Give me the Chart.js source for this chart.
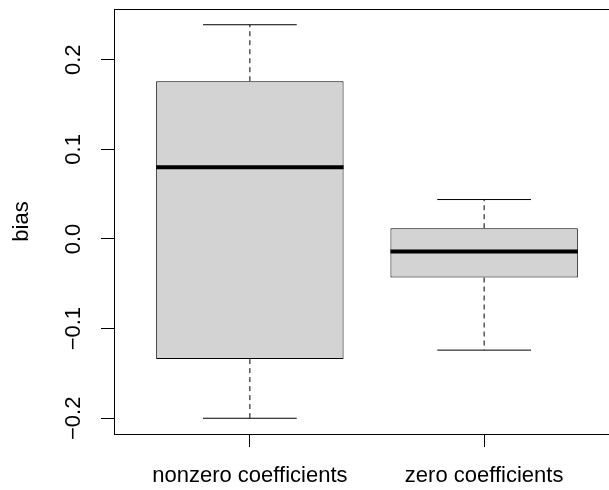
<!DOCTYPE html>
<html>
<head>
<meta charset="utf-8">
<script src="https://cdn.jsdelivr.net/npm/chart.js@4"></script>
<style>
    html, body { margin: 0; padding: 0; background: #fff; overflow: hidden; }
    #clip { width: 609px; height: 490px; overflow: hidden; }
    #wrap { position: relative; width: 620px; height: 490px; }
</style>
</head>
<body>
<div id="clip"><div id="wrap"><canvas id="boxChart"></canvas></div></div>
<script>
// Dados do boxplot
const categories = ['nonzero coefficients', 'zero coefficients'];
const whiskerLow = [-0.200, -0.124];
const boxLow = [-0.134, -0.043];
const medians = [0.080, -0.014];
const boxHigh = [0.176, 0.012];
const whiskerHigh = [0.239, 0.044];
const yTicks = [-0.2, -0.1, 0.0, 0.1, 0.2];
const yTickLabels = ['\u22120.2', '\u22120.1', '0.0', '0.1', '0.2'];

const FONT = '"Liberation Sans", Arial, sans-serif';
const BOX_WIDTH = 0.8;
const STAPLE_WIDTH = 0.4;

Chart.defaults.color = '#000';
Chart.defaults.font.family = FONT;

// limites como no R (4% de folga)
const dataLow = Math.min(...whiskerLow);
const dataHigh = Math.max(...whiskerHigh);
const yPad = (dataHigh - dataLow) * 0.04;

function segments(fn) {
    const out = [];
    categories.forEach((c, i) => {
        fn(i).forEach(seg => {
            out.push(seg[0], seg[1], { x: i + 1, y: null });
        });
    });
    return out;
}

const whiskerData = segments(i => [
    [{ x: i + 1, y: boxHigh[i] }, { x: i + 1, y: whiskerHigh[i] }],
    [{ x: i + 1, y: boxLow[i] }, { x: i + 1, y: whiskerLow[i] }]
]);

const stapleData = segments(i => [
    [{ x: i + 1 - STAPLE_WIDTH / 2, y: whiskerHigh[i] }, { x: i + 1 + STAPLE_WIDTH / 2, y: whiskerHigh[i] }],
    [{ x: i + 1 - STAPLE_WIDTH / 2, y: whiskerLow[i] }, { x: i + 1 + STAPLE_WIDTH / 2, y: whiskerLow[i] }]
]);

const medianData = segments(i => [
    [{ x: i + 1 - BOX_WIDTH / 2, y: medians[i] }, { x: i + 1 + BOX_WIDTH / 2, y: medians[i] }]
]);

// Moldura (topo; o lado direito fica fora da imagem) + rótulos verticais do eixo y
const rFrame = {
    id: 'rFrame',
    afterDraw(chart) {
        const { ctx, chartArea: a } = chart;
        const y = chart.scales.y;
        ctx.save();
        ctx.strokeStyle = '#000';
        ctx.lineWidth = 1;
        const top = Math.round(a.top) + 0.5;
        ctx.beginPath();
        ctx.moveTo(Math.round(a.left), top);
        ctx.lineTo(a.right, top);
        ctx.stroke();

        ctx.fillStyle = '#000';
        ctx.font = '22px ' + FONT;
        ctx.textAlign = 'center';
        ctx.textBaseline = 'alphabetic';
        y.ticks.forEach((t, i) => {
            ctx.save();
            ctx.translate(a.left - 34, y.getPixelForValue(t.value));
            ctx.rotate(-Math.PI / 2);
            ctx.fillText(yTickLabels[i], 0, 0);
            ctx.restore();
        });
        ctx.restore();
    }
};

new Chart(document.getElementById('boxChart'), {
    type: 'bar',
    data: {
        datasets: [{
            type: 'bar',
            data: categories.map((c, i) => ({ x: i + 1, y: [boxLow[i], boxHigh[i]] })),
            backgroundColor: '#D3D3D3',
            borderColor: '#000',
            borderWidth: 1,
            borderSkipped: false,
            barPercentage: BOX_WIDTH,
            categoryPercentage: 1,
            order: 3
        }, {
            type: 'line',
            data: whiskerData,
            borderColor: '#000',
            borderWidth: 1,
            borderDash: [5, 4],
            pointRadius: 0,
            spanGaps: false,
            order: 2
        }, {
            type: 'line',
            data: stapleData,
            borderColor: '#000',
            borderWidth: 1,
            pointRadius: 0,
            spanGaps: false,
            order: 1
        }, {
            type: 'line',
            data: medianData,
            borderColor: '#000',
            borderWidth: 4,
            pointRadius: 0,
            spanGaps: false,
            order: 0
        }]
    },
    options: {
        responsive: true,
        maintainAspectRatio: false,
        animation: false,
        layout: { padding: { top: 9, right: 0, bottom: 0, left: 0 } },
        plugins: {
            legend: { display: false },
            tooltip: { enabled: false }
        },
        scales: {
            x: {
                type: 'linear',
                min: 0.42,
                max: 2.58,
                offset: false,
                afterBuildTicks: s => { s.ticks = categories.map((c, i) => ({ value: i + 1 })); },
                afterFit: s => { s.height = 56; },
                ticks: {
                    callback: v => categories[v - 1],
                    font: { size: 22 },
                    padding: 16,
                    maxRotation: 0,
                    autoSkip: false
                },
                grid: { display: true, drawOnChartArea: false, drawTicks: true, tickLength: 13, color: '#000', offset: false },
                border: { display: true, color: '#000', width: 1 }
            },
            y: {
                type: 'linear',
                min: dataLow - yPad,
                max: dataHigh + yPad,
                afterBuildTicks: s => { s.ticks = yTicks.map(v => ({ value: v })); },
                afterFit: s => { s.width = 114; },
                ticks: { display: false },
                grid: { display: true, drawOnChartArea: false, drawTicks: true, tickLength: 13, color: '#000' },
                border: { display: true, color: '#000', width: 1 },
                title: {
                    display: true,
                    text: 'bias',
                    font: { size: 22 },
                    padding: { top: 9, bottom: 0 }
                }
            }
        }
    },
    plugins: [rFrame]
});
</script>
</body>
</html>
